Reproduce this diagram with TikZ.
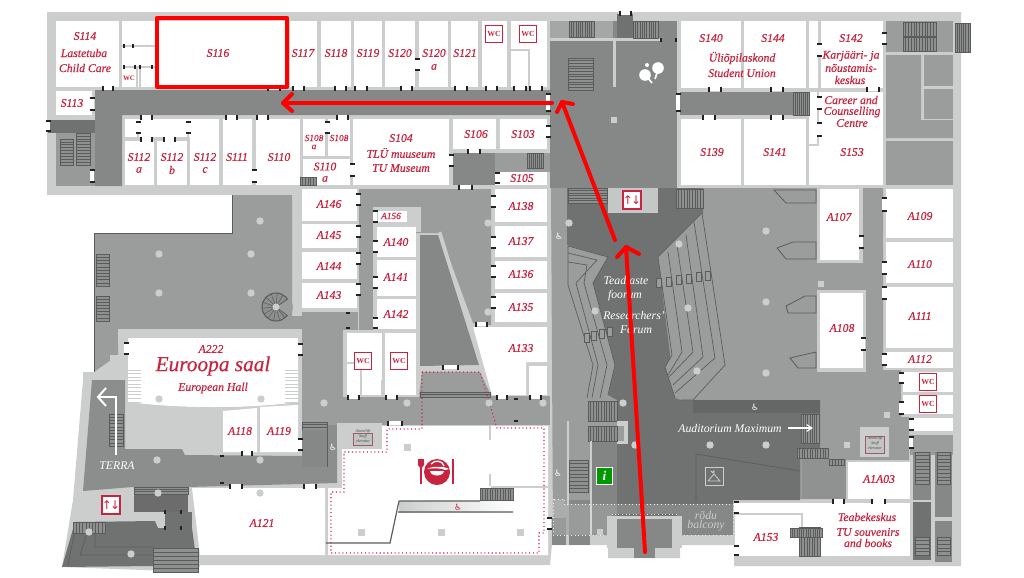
\documentclass[tikz,border=0pt]{standalone}
\usepackage{fontspec}
\usetikzlibrary{arrows.meta}
\setmainfont{Liberation Serif}
\newfontfamily\symb{DejaVu Sans}
\newfontfamily\rf[ItalicFeatures={FakeBold=0.4}]{Liberation Serif}
\definecolor{base}{HTML}{CCCECD}
\definecolor{hallg}{HTML}{9B9D9C}
\definecolor{corr}{HTML}{868887}
\definecolor{deep}{HTML}{6F7271}
\definecolor{stfill}{HTML}{8E908F}
\definecolor{stline}{HTML}{5A5C5B}
\definecolor{crim}{HTML}{C9243F}
\definecolor{tick}{HTML}{222222}
\tikzset{
  rl/.style={text=crim,inner sep=0pt,font=\rf\itshape\fontsize{8.8pt}{10pt}\selectfont},
  rs/.style={text=crim,inner sep=0pt,font=\rf\itshape\fontsize{7pt}{8pt}\selectfont},
  wl/.style={text=white,inner sep=0pt,font=\itshape\fontsize{8.8pt}{10pt}\selectfont},
  tinyl/.style={text=black!70,inner sep=0pt,font=\itshape\fontsize{3.2pt}{3.6pt}\selectfont},
  stairfill/.style={fill=stfill},
  stairline/.style={draw=stline,line width=.45pt},
  seatline/.style={draw=stline,line width=.5pt},
  wcbox/.style={draw=crim,fill=white,line width=.8pt,minimum size=12.5pt,inner sep=0pt,text=crim,font=\bfseries\fontsize{5.8pt}{6pt}\selectfont},
  liftbox/.style={draw=crim,fill=white,line width=.9pt,minimum size=13.5pt,inner sep=0pt,text=crim,font=\symb\fontsize{9pt}{9pt}\selectfont},
  route/.style={draw=red,line width=3pt,line cap=round,line join=round},
  col/.style={fill=base},
  trap/.style={fill=hallg,draw=stline,line width=.6pt},
}
\newcommand{\stH}[5]{\fill[stairfill] (#1,#2) rectangle (#3,#4);\foreach \i in {0,...,#5}{\pgfmathsetmacro\yy{#2+(#4-#2)*\i/#5}\draw[stairline] (#1,\yy)--(#3,\yy);}\draw[stairline] (#1,#2) rectangle (#3,#4);}
\newcommand{\stV}[5]{\fill[stairfill] (#1,#2) rectangle (#3,#4);\foreach \i in {0,...,#5}{\pgfmathsetmacro\xx{#1+(#3-#1)*\i/#5}\draw[stairline] (\xx,#2)--(\xx,#4);}\draw[stairline] (#1,#2) rectangle (#3,#4);}
\newcommand{\stW}[5]{\fill[white] (#1,#2) rectangle (#3,#4);\foreach \i in {0,...,#5}{\pgfmathsetmacro\yy{#2+(#4-#2)*\i/#5}\draw[base,line width=.6pt] (#1,\yy)--(#3,\yy);}}
\newcommand{\hdr}[3]{\fill[white] (#1,#3-2) rectangle (#2,#3+2);\draw[tick,line width=.8pt] (#1,#3-2.5)--(#1,#3+2.5) (#2,#3-2.5)--(#2,#3+2.5);}
\newcommand{\vdr}[3]{\fill[white] (#1-2,#2) rectangle (#1+2,#3);\draw[tick,line width=.8pt] (#1-2.5,#2)--(#1+2.5,#2) (#1-2.5,#3)--(#1+2.5,#3);}
\newcommand{\lab}[4]{\node[rl] (#1) at (#2,#3) {#4};}
\newcommand{\labs}[4]{\node[rs] (#1) at (#2,#3) {#4};}
\begin{document}
\begin{tikzpicture}[x=0.75pt,y=-0.75pt]
\useasboundingbox (0,0) rectangle (1024,578);
\fill[white] (0,0) rectangle (1024,578);
% building base
\fill[base] (47,12)--(961,12)--(961,566)--(734,566)--(734,545)--(680,545)--(680,558)--(608,558)--(608,545)--(552,545)--(550,565)--(200,565)--(198,572)--(62,567)--(73,500)--(83,380)--(83,372)--(94,372)--(94,233)--(232,233)--(232,195)--(47,195)--cycle;
% upper-left corridor
\fill[corr] (95,90)--(552,90)--(552,115)--(122,115)--(122,186)--(95,186)--cycle;
\fill[corr!85!white] (56,120) rectangle (95,186);
\fill[deep] (48,120) rectangle (95,133);
\stH{60}{139}{73}{165}{9}
\stH{76}{133}{90}{165}{11}
% upper-left rooms
\foreach \a/\b/\c/\d in {56/21/119/87,122/21/155/87,155/21/288/88,290/21/317/87,321/21/351/87,354/21/382/87,385/21/415/87,419/21/448/87,451/21/478/87,482/21/507/87,511/21/547/87,
 56/91/92/115,125/119/219/137,125/141/154/185,157/141/187/185,190/119/219/185,223/119/252/185,256/119/300/185,303/119/325/156,328/119/350/156,303/159/350/185,353/119/449/185,453/119/496/149,500/119/547/149,495/172/547/185}
 {\fill[white] (\a,\b) rectangle (\c,\d);}
\draw[base,line width=1.2pt] (122,46)--(155,46) (124,67)--(155,67) (137,67)--(137,87) (140,67)--(140,87);
\draw[base,line width=1.5pt] (511,50)--(529,50)--(529,87);
\draw[base,line width=1.5pt] (138,122)--(138,137) (188,122)--(188,137);
\fill[hallg] (453,153) rectangle (552,172);
\fill[corr] (453,153) rectangle (495,185);
\stV{527}{153}{543}{168}{8}
\stV{300}{177}{316}{185}{6}
% central hall
\fill[corr] (550,21) rectangle (677,188);
\fill[hallg!90!white] (550,21) rectangle (613,38);
\stV{569}{21}{594}{37}{11}
\fill[base] (550,38) rectangle (660,41);
\fill[base] (613,38) rectangle (616,87);
\fill[deep] (617,14) rectangle (633,38);
\stV{633}{21}{658}{38}{11}
\stH{568}{58}{593}{90}{12}
\fill[base] (611,117) rectangle (617,123);
% ping pong
\fill[white] (645,75) circle (5.8);
\fill[white] (658,68) circle (5.8);
\fill[white] (647,65) circle (2);
\draw[white,line width=1.2pt] (648,78)--(652,83);
\draw[white,line width=1.2pt] (657,73)--(655,79);
% right upper block
\foreach \a/\b/\c/\d in {681/21/741/88,744/21/806/88,809/21/818/88,821/21/883/88,681/119/741/185,744/119/806/185}
 {\fill[white] (\a,\b) rectangle (\c,\d);}
\fill[white] (809,92)--(883,92)--(883,185)--(809,185)--cycle;
\draw[base,line width=1.5pt] (818,92)--(818,145)--(809,145);
\fill[corr] (680,92) rectangle (793,115);
\stV{793}{92}{809}{115}{8}
\fill[hallg] (886,21) rectangle (953,52);
\stV{903}{22}{936}{36}{12}
\stV{903}{37}{936}{51}{12}
\stV{955}{23}{970}{52}{7}
\fill[hallg] (886,55)--(921,55)--(921,120)--(953,120)--(953,138)--(886,138)--cycle;
\fill[hallg] (924,55) rectangle (953,86);
\fill[hallg] (924,89) rectangle (953,119);
\fill[hallg] (886,141) rectangle (953,185);
% big central hall
\fill[hallg] (551,188)--(883,188)--(883,370)--(901,370)--(901,417)--(909,417)--(909,460)--(846,460)--(846,499)--(733,499)--(733,535)--(553,535)--cycle;
\fill[hallg!112!white,opacity=.9] (802,459) rectangle (846,499);
\fill[deep] (567,188)--(703,188)--(703,213)--(658,257)--(675,395)--(693,400)--(820,400)--(820,448)--(800,458)--(800,500)--(733,500)--(733,535)--(592,535)--(592,441)--(617,441)--(617,400)--(608,395)--(615,365)--(593,283)--(608,257)--(567,245)--cycle;
\fill[deep!90!black] (693,400) rectangle (820,413);
\fill[corr!85!deep] (592,441) rectangle (617,535);
% lift box and stairs at top of forum
\stH{568}{188}{607}{203}{6}
\fill[base!85!hallg] (608,188) rectangle (658,213);
\stV{676}{189}{703}{208}{10}
% left seats
\fill[hallg] (568,246)--(608,257)--(593,283)--(615,365)--(608,395)--(586,400)--(593,365)--(568,285)--cycle;
\draw[seatline] (568,246)--(608,257)--(593,283)--(615,365)--(608,395) (568,246)--(568,285)--(593,365)--(587,398);
\draw[seatline] (568,253)--(597,260)--(576,283)--(598,365)--(592,398);
\draw[seatline] (568,262)--(587,265)--(584,283)--(607,365)--(600,398);
\foreach \p/\q in {587/338,594/336,602/334,610/332}{\draw[seatline,fill=hallg] (\p-2.5,\q-4.5) rectangle (\p+2.5,\q+4.5);}
% right seats
\fill[hallg] (658,257)--(702,213)--(725,365)--(693,400)--(681,400)--(675,398)--(665,367)--(672,355)--cycle;
\draw[seatline] (658,257)--(702,213)--(725,365)--(693,400)--(681,400) (658,257)--(672,355)--(665,367)--(675,398);
\draw[seatline] (668,252)--(682,352)--(668,375);
\draw[seatline] (677,245)--(693,352)--(669,377);
\draw[seatline] (686,235)--(703,357)--(673,385);
\draw[seatline] (694,222)--(715,358)--(675,393);
\foreach \p/\q in {659/283,669/282,679/280,689/279,699/277,708/276}{\draw[seatline,fill=hallg] (\p-2.5,\q-4.5) rectangle (\p+2.5,\q+4.5);}
% A107/A108 frames
\fill[base] (817,188) rectangle (863,263);
\fill[base] (817,290) rectangle (866,372);
\fill[white] (820,189) rectangle (859,260);
\fill[white] (820,293) rectangle (863,368);
\draw[trap] (774,190)--(816,190)--(816,203)--(786,203)--cycle;
\draw[trap] (777,248)--(793,242)--(816,242)--(816,259)--(786,259)--cycle;
\draw[trap] (786,306)--(805,296)--(816,296)--(816,313)--(788,313)--cycle;
\draw[trap] (790,358)--(816,352)--(816,368)--(798,368)--cycle;
% right column rooms
\foreach \a/\b/\c/\d in {886/189/953/238,886/242/953/283,886/287/953/348,886/352/953/368,903/372/953/392,903/395/953/414,909/418/953/431,848/462/910/499}
 {\fill[white] (\a,\b) rectangle (\c,\d);}
\fill[hallg] (910,435) rectangle (953,455);
\fill[corr] (913,452) rectangle (931,500);
\stH{915}{452}{929}{484}{9}
\fill[corr] (935,452) rectangle (952,517);
\stH{937}{452}{950}{484}{9}
\fill[deep] (913,502) rectangle (931,560);
\fill[corr] (935,521) rectangle (952,562);
\stH{915}{537}{929}{555}{5}
\stH{937}{537}{950}{555}{5}
% shop and A153
\fill[white] (735,503) rectangle (910,556);
\draw[base,line width=1.6pt] (735,514)--(802,514)--(802,556);
\fill[white] (738,516) rectangle (799,556);
\stV{799}{527}{820}{556}{8}
\stV{790}{528}{822}{537}{14}
% lower forum details
\stV{588}{401}{617}{421}{11}
\fill[base] (617,421) rectangle (628,444);
\fill[hallg] (617,426) rectangle (624,441);
\stV{588}{426}{617}{441}{11}
\fill[base] (590,441) rectangle (592,535);
\fill[base] (567,421) rectangle (569,505);
\stH{569}{460}{588}{492}{9}
\fill[corr] (552,518) rectangle (566,545);
\fill[corr] (569,500) rectangle (590,545);
\stV{801}{414}{819}{443}{8}
\stV{797}{448}{828}{458}{12}
\stV{829}{459}{844}{465}{5}
\draw[stline,line width=.5pt] (696,454)--(800,471) (696,454)--(696,502);
% balcony
\fill[white,opacity=.16] (553,499)--(553,535)--(612,535)--(612,514)--(677,514)--(677,535)--(733,535)--(733,504)--(564,504)--(564,499)--cycle;
\draw[white!85!gray,line width=.7pt,dotted] (553,499)--(553,535)--(612,535)--(612,514)--(677,514)--(677,535)--(733,535)--(733,504)--(564,504)--(564,499)--cycle;
% dark box at entrance
\fill[base] (607,516) rectangle (682,548);
\fill[corr] (617,519) rectangle (672,548);
\fill[corr] (634,548) rectangle (655,558);
% staff lift right
\fill[base] (860,427) rectangle (889,457);
\fill[hallg!60!white,draw=crim!40!gray,line width=.3pt] (865,436) rectangle (884,453);
% atrium left
\fill[hallg] (232,195)--(292,195)--(292,316)--(302,316)--(302,329)--(118,329)--(118,355)--(94,372)--(94,233)--(232,233)--cycle;
\draw[stline,line width=.6pt] (94,372)--(94,233)--(232,233)--(232,195);
\stH{96}{254}{109}{286}{10}
\stH{96}{296}{109}{321}{8}
% spiral stairs
\fill[stfill] (276,307) circle (14);
\foreach \t in {0,25,...,335}{\draw[stline,line width=.4pt] (276,307)--++(\t:14);}
\draw[stline,line width=.8pt] (276,307) circle (14);
\fill[hallg] (276,307)--(291,297)--(293,307)--(291,318)--cycle;
\draw[stline,line width=.5pt] (276,307)--(288,299) (276,307)--(288,316);
\fill[base] (276,307) circle (3.5);
% Euroopa
\fill[base] (118,329) rectangle (302,345);
\fill[white] (128,338)--(298,338)--(298,402) .. controls (250,409) and (180,409) .. (128,402)--cycle;
\fill[base] (110,355) rectangle (128,372);
\stW{128}{370}{141}{402}{9}
\stW{285}{370}{298}{402}{9}
\fill[base] (125,402) .. controls (180,409) and (250,409) .. (300,402)--(302,455)--(183,455)--(182,450)--(125,449)--cycle;
\fill[white] (223,411)--(257,408)--(257,452)--(223,452)--cycle;
\fill[white] (260,407)--(298,405)--(298,452)--(260,452)--cycle;
% Terra lobby
\fill[corr!95!white] (92,380)--(125,380)--(125,449)--(182,449)--(185,455)--(302,456)--(302,395)--(337,395)--(337,483)--(188,487)--(133,487)--(83,491)--cycle;
\stH{109}{414}{123}{446}{10}
\fill[hallg] (302,396) rectangle (550,425);
\fill[hallg] (302,330) rectangle (343,425);
\fill[hallg] (302,312) rectangle (358,330);
% dark bottom-left
\fill[stline!90!white] (134,487) rectangle (188,512);
\stH{134}{487}{188}{494}{3}
\fill[deep] (158,512) rectangle (192,528);
\fill[deep] (62,567)--(75,522)--(155,521)--(158,528)--(192,528)--(198,572)--(153,572)--(153,566)--cycle;
\draw[stline,line width=.5pt] (75,530)--(68,565) (88,530)--(80,555)--(153,555) (95,530)--(95,547)--(153,547);
\stH{153}{548}{198}{572}{6}
\stV{73}{522}{105}{533}{10}
\fill[base] (158,512) rectangle (165,528);
% upper middle zone
\fill[hallg] (359,189)--(491,189)--(491,325)--(473,323)--(440,233)--(410,233)--(410,207)--(373,207)--(373,330)--(359,330)--cycle;
\fill[base] (373,207) rectangle (378,330);
\fill[base] (405,207) rectangle (421,232);
\fill[base] (373,207) rectangle (410,210);
\fill[corr] (420,235)--(438,235)--(479,365)--(420,366)--cycle;
\draw[base,line width=2pt] (440,232)--(484,375);
% A rooms centre
\foreach \a/\b/\c/\d in {302/189/357/221,302/224/357/248,302/252/357/279,302/283/357/308,378/211/407/222,377/227/416/257,377/260/416/296,377/299/416/329,495/189/547/222,495/226/547/257,495/261/547/289,495/293/547/322}
 {\fill[white] (\a,\b) rectangle (\c,\d);}
\fill[base] (343,330) rectangle (419,397);
\foreach \a/\b/\c/\d in {347/333/382/395,385/333/416/395}
 {\fill[white] (\a,\b) rectangle (\c,\d);}
\draw[base,line width=1.4pt] (347,363)--(361,363)--(361,395) (382,380)--(382,395);
\fill[white] (473,327)--(547,327)--(547,362)--(526,362)--(526,395)--(492,395)--cycle;
\fill[white] (529,366) rectangle (547,395);
\fill[hallg] (422,372)--(480,372)--(491,395)--(419,395)--cycle;
\stH{420}{392}{490}{397}{2}
% lower band again, stair by A119
\stH{302}{422}{327}{430}{3}
\fill[corr] (302,430) rectangle (327,467);
\draw[stline,line width=.6pt] (327,430)--(327,467);
% restaurant
\fill[base] (337,423) rectangle (382,449);
\fill[white] (342,449)--(382,449)--(382,426)--(548,426)--(548,555)--(328,555)--(328,488)--(342,488)--cycle;
\fill[hallg!60!white,draw=crim!40!gray,line width=.3pt] (353,433) rectangle (372,445);
\fill[white] (192,488)--(325,488)--(325,555)--(200,555)--cycle;
\fill[base] (489,426) rectangle (491,440);
\fill[base] (489,474) rectangle (491,486);
\fill[base] (491,486) rectangle (548,488);
\shade[left color=base,right color=white] (399,501) rectangle (513,512);
\stV{480}{488}{513}{500}{13}
\draw[stline,line width=.9pt] (399,501)--(480,501) (398,512)--(513,512) (399,501)--(390,543)--(326,543);
\foreach \p/\q in {407/447,361/532,441/532,520/532}{\fill[base] (\p-3.5,\q-3.5) rectangle (\p+3.5,\q+3.5);}
% dotted restaurant boundary
\draw[crim,line width=.8pt,dotted] (422,372)--(480,372)--(497,428)--(544,428)--(544,533)--(539,533)--(539,553)--(331,553)--(331,492)--(344,492)--(344,452)--(387,452)--(387,429)--(422,429)--cycle;
% food icon
\fill[crim] (437,472) circle (13);
\fill[white] (427,469) .. controls (432,466) and (444,466) .. (449,469) -- (445,470) .. controls (442,468) and (432,468) .. (427,469)--cycle;
\fill[white] (430,471)--(444,471) .. controls (443,477) and (431,477) .. (430,471)--cycle;
\draw[white,line width=1pt] (431,464) .. controls (435,459) and (443,461) .. (444,466);
\draw[crim,line width=1.4pt] (421,466)--(421,484) (453,459)--(453,484);
\fill[crim] (418,459)--(424,459)--(424,465)--(421,469)--(418,465)--cycle;
% columns
\foreach \p/\q in {260/221,159/254,251/254,159/293,251/293,159/399,261/399,324/403,407/403,489/403,543/403,157/460,260/460,158/493,260/493,89/532,131/554,569/223,679/244,595/311,688/308,697/371,766/231,766/302,766/373,623/403,710/445,766/445,635/445,488/223,488/312}
 {\fill[col] (\p,\q) circle (3.7);}
\foreach \p/\q in {821/284,887/415,847/445,600/532,679/532}{\fill[base] (\p-3,\q-3) rectangle (\p+3,\q+3);}
% doors: horizontal runs
\foreach \a/\b/\c in {103/113/88,268/280/88,293/304/88,335/346/88,355/367/88,401/412/88,455/467/88,486/497/88,514/526/88,530/542/88,226/237/117,257/268/117,141/152/117,337/348/117,141/152/139,164/175/139,468/480/151,459/472/187,709/721/89,771/783/89,703/715/117,771/783/117,867/879/89,833/844/501,872/885/501,476/487/324,443/458/367,348/359/397,386/397/397,497/507/397,530/541/397,388/402/423,242/252/453,230/242/486,304/316/486,620/631/13}
 {\hdr{\a}{\b}{\c}}
\foreach \a/\b/\c in {92/98/110,92/170/182,48/121/131,138/122/133,188/122/133,417/59/70,327/122/133,254/170/182,352/164/176,451/155/166,497/173/183,548/94/111,548/126/137,678/94/111,819/44/56,819/97/109,819/123/136,884/33/44,861/236/248,863/338/350,884/198/211,884/262/274,884/287/299,884/354/365,901/373/383,901/402/414,911/419/430,911/437/448,736/502/513,736/546/555,358/194/205,358/226/237,358/253/264,358/284/295,375/211/222,375/241/252,375/277/288,375/318/328,493/196/207,493/237/248,493/266/277,493/297/308,126/343/354,300/344/355,300/439/450,549/518/529}
 {\vdr{\a}{\b}{\c}}
\draw[tick,line width=.8pt] (124,44)--(124,48) (133,44)--(133,48) (124,65)--(124,69) (135,65)--(135,69) (140,65)--(140,69) (152,65)--(152,69) (661,38)--(661,42) (676,38)--(676,42) (346,313)--(350,313) (346,328)--(350,328) (220,456)--(224,456) (220,483)--(224,483) (514,399)--(518,399) (514,421)--(518,421) (165,510)--(165,514) (181,510)--(181,514) (165,526)--(165,530) (181,526)--(181,530);
% signs
\node[wcbox] (w1) at (494,34) {WC};
\node[wcbox] (w2) at (528,34) {WC};
\node[wcbox] (w3) at (363,361) {WC};
\node[wcbox] (w4) at (399,361) {WC};
\node[wcbox] (w5) at (928,382) {WC};
\node[wcbox] (w6) at (928,404) {WC};
\node[text=crim,inner sep=0pt,font=\bfseries\fontsize{5.2pt}{5pt}\selectfont] (w7) at (129,78) {WC};
\node[liftbox] (l1) at (632,200) {↑\kern-1.5pt↓};
\node[liftbox] (l2) at (111,505) {↑\kern-1.5pt↓};
% info and hanger
\node[draw=white,fill=green!60!black,line width=.6pt,minimum size=12.5pt,inner sep=0pt,text=white,font=\bfseries\itshape\fontsize{10pt}{10pt}\selectfont] (info) at (604.5,476) {i};
\draw[base,line width=.6pt] (705,467) rectangle (723,485);
\draw[base,line width=.6pt] (708,481)--(720,481)--(714,474)--(708,481) (714,474)--(714,471) arc (0:180:1.5);
% wheelchairs
\foreach \n/\p/\q in {a/559/236,b/755/407,c/558/473,d/333/447}{\node[text=white,inner sep=0pt,font=\symb\fontsize{6.5pt}{7pt}\selectfont] (wh\n) at (\p,\q) {♿};}
\node[text=crim,inner sep=0pt,font=\symb\fontsize{6.5pt}{7pt}\selectfont] (whe) at (458,507) {♿};
% Terra arrow
\coordinate (ta) at (116,455);\coordinate (tb) at (116,397);\coordinate (tc) at (99,397);
\draw[white,line width=1.5pt,line join=miter] (ta)--(tb)--(tc);
\draw[white,line width=1.5pt,line join=miter] (106,388)--(98,397)--(106,406);
% labels
\lab{s114}{85}{36}{S114}\lab{s114a}{84}{53}{Lastetuba}\lab{s114b}{85}{68}{Child Care}
\lab{s116}{218}{53}{S116}\lab{s117}{303}{53}{S117}\lab{s118}{336}{53}{S118}\lab{s119}{368}{53}{S119}\lab{s120}{400}{53}{S120}\lab{s120a}{434}{53}{S120}\lab{s120b}{434}{67}{a}\lab{s121}{465}{53}{S121}
\lab{s113}{72}{103}{S113}
\lab{s112a}{139}{157}{S112}\lab{s112a2}{139}{170}{a}\lab{s112b}{172}{157}{S112}\lab{s112b2}{172}{170}{b}\lab{s112c}{205}{157}{S112}\lab{s112c2}{205}{170}{c}
\lab{s111}{237}{157}{S111}\lab{s110}{279}{157}{S110}
\labs{s108a}{314}{138}{S108}\labs{s108a2}{314}{147}{a}\labs{s108}{339}{138}{S108}
\lab{s110a}{325}{166.5}{S110}\lab{s110b}{325}{179}{a}
\lab{s104}{401}{138}{S104}\lab{s104a}{401}{153}{TLÜ muuseum}\lab{s104b}{401}{168}{TU Museum}
\lab{s106}{476}{134}{S106}\lab{s103}{523}{134}{S103}\lab{s105}{522}{178}{S105}
\lab{s140}{711}{38}{S140}\lab{s144}{773}{38}{S144}\lab{s142}{851}{38}{S142}
\lab{su1}{742}{58}{Üliõpilaskond}\lab{su2}{742}{73}{Student Union}
\lab{k1}{851}{56}{Karjääri- ja}\lab{k2}{851}{68}{nõustamis-}\lab{k3}{850}{80}{keskus}
\lab{c1}{851}{100}{Career and}\lab{c2}{852}{112}{Counselling}\lab{c3}{852}{123}{Centre}
\lab{s139}{712}{152}{S139}\lab{s141}{775}{152}{S141}\lab{s153}{852}{152}{S153}
\lab{a146}{329}{204}{A146}\lab{a145}{329}{235}{A145}\lab{a144}{329}{266}{A144}\lab{a143}{329}{295}{A143}
\labs{a156}{391}{216}{A156}\lab{a140}{396}{242}{A140}\lab{a141}{396}{277}{A141}\lab{a142}{396}{314}{A142}
\lab{a138}{521}{206}{A138}\lab{a137}{521}{241}{A137}\lab{a136}{521}{274}{A136}\lab{a135}{521}{307}{A135}\lab{a133}{521}{348}{A133}
\lab{a222}{211}{349}{A222}
\node[rl,font=\rf\itshape\fontsize{16pt}{18pt}\selectfont] (es) at (213,366) {Euroopa saal};
\lab{eh}{213}{388}{European Hall}
\lab{a118}{240}{431}{A118}\lab{a119}{279}{431}{A119}\lab{a121}{262}{523}{A121}
\node[wl] (terra) at (117,466) {TERRA};
\lab{a107}{839}{217}{A107}\lab{a108}{842}{328}{A108}\lab{a109}{920}{216}{A109}\lab{a110}{920}{264}{A110}\lab{a111}{920}{316}{A111}\lab{a112}{920}{359}{A112}
\lab{a1a03}{879}{479}{A1A03}\lab{a153}{766}{537}{A153}
\lab{t1}{867}{517}{Teabekeskus}\lab{t2}{868}{532}{TU souvenirs}\lab{t3}{868}{543}{and books}
\node[wl] (f1) at (626,280) {Teadlaste};
\node[wl] (f2) at (625,296) {foorum};
\node[wl] (f3) at (634,315) {Researchers'};
\node[wl] (f4) at (636,330) {Forum};
\node[wl] (am) at (730,428) {Auditorium Maximum};
\coordinate (ama) at (788,428);\coordinate (amb) at (813,428);
\draw[white,line width=.8pt,-{Straight Barb[length=4pt,width=5pt]}] (ama)--(amb);
\node[wl,text=base] (r1) at (706,515) {rõdu};
\node[wl,text=base] (r2) at (706,526) {balcony};
\node[tinyl,align=center] (e1) at (363,436) {Ametilift\\Staff\\elevator};
\node[tinyl,align=center] (e2) at (875,443) {Ametilift\\Staff\\elevator};
% route
\coordinate (r0) at (645,552);\coordinate (r1t) at (626,247);
\coordinate (r2s) at (615,240);\coordinate (r2t) at (562,102);
\coordinate (r3s) at (552,103);\coordinate (r3t) at (283,103);
\draw[route] (r0)--(r1t);
\draw[route] (617,257)--(r1t)--(639,254);
\draw[route] (r2s)--(r2t);
\draw[route] (557,112)--(r2t)--(573,104);
\draw[route] (r3s)--(r3t);
\draw[route] (292,94)--(r3t)--(292,111);
\draw[draw=red,line width=3.2pt,line join=round] (157,18) rectangle (287,87);
\end{tikzpicture}
\end{document}
